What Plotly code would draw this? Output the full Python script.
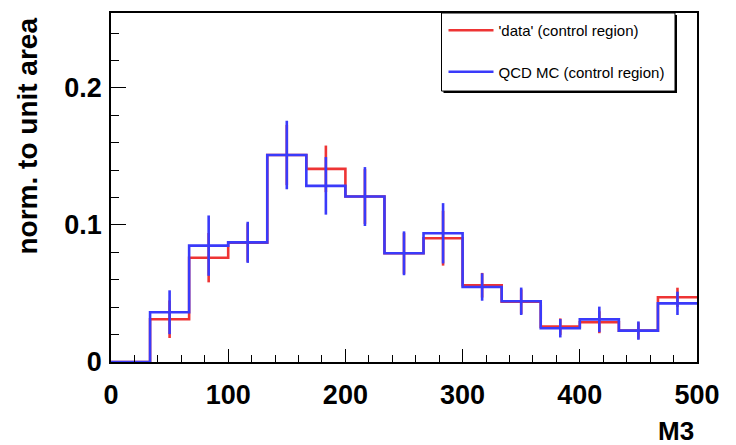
import plotly.graph_objects as go

# ---- data ----
bin_edges = [0, 33.333, 66.667, 100, 133.333, 166.667, 200, 233.333, 266.667,
             300, 333.333, 366.667, 400, 433.333, 466.667, 500]
data_vals = [0.0, 0.0312, 0.0761, 0.0871, 0.151, 0.1409, 0.1207, 0.0793, 0.0903,
             0.0560, 0.0440, 0.0258, 0.0290, 0.0229, 0.0472]
data_errs = [0.0, 0.0137, 0.018, 0.014, 0.022, 0.017, 0.020, 0.015, 0.020,
             0.009, 0.009, 0.006, 0.008, 0.006, 0.007]
mc_vals = [0.0, 0.0363, 0.0849, 0.0873, 0.151, 0.1285, 0.1207, 0.0793, 0.0939,
           0.0547, 0.0443, 0.0246, 0.0311, 0.0229, 0.0428]
mc_errs = [0.0, 0.016, 0.022, 0.015, 0.025, 0.021, 0.0215, 0.016, 0.022,
           0.010, 0.010, 0.0067, 0.0093, 0.0067, 0.0085]
x_ticks = [0, 100, 200, 300, 400, 500]
y_ticks = [0, 0.1, 0.2]
y_tick_text = ["0", "0.1", "0.2"]

RED = "rgb(238,52,52)"
BLUE = "rgb(58,58,250)"
FONT = "Liberation Sans, Arial, Helvetica, sans-serif"

centers = [(bin_edges[i] + bin_edges[i + 1]) / 2 for i in range(len(bin_edges) - 1)]

fig = go.Figure()

def add_hist(vals, errs, color, name, group):
    fig.add_trace(go.Scatter(
        x=bin_edges, y=vals + [vals[-1]], mode="lines", line_shape="hv",
        line=dict(color=color, width=2.6), name=name, legendgroup=group,
        showlegend=True, hoverinfo="skip"))
    ex = [c for c, e in zip(centers, errs) if e > 0]
    ey = [v for v, e in zip(vals, errs) if e > 0]
    ee = [e for e in errs if e > 0]
    fig.add_trace(go.Scatter(
        x=ex, y=ey, mode="markers", marker=dict(size=1, color=color, opacity=0),
        error_y=dict(type="data", array=ee, visible=True, color=color,
                     thickness=2.6, width=0),
        showlegend=False, legendgroup=group, hoverinfo="skip"))

add_hist(data_vals, data_errs, RED, "'data' (control region)", "g1")
add_hist(mc_vals, mc_errs, BLUE, "QCD MC (control region)", "g2")

L, R, T, B = 111, 39, 11, 83
W, H = 736, 445
pw, ph = W - L - R, H - T - B

def px_x(px):
    return (px - L) / pw

def px_y(py):
    return (H - B - py) / ph

# legend box (ROOT style with shadow)
bx0, bx1, by0, by1 = 441.5, 675, 11, 89.5
fig.add_shape(type="rect", xref="paper", yref="paper",
              x0=px_x(bx0 + 2), x1=px_x(bx1 + 2), y0=px_y(by1 + 2), y1=px_y(by0 + 2),
              line=dict(width=0), fillcolor="black", layer="above")
fig.add_shape(type="rect", xref="paper", yref="paper",
              x0=px_x(bx0), x1=px_x(bx1), y0=px_y(by1), y1=px_y(by0),
              line=dict(color="black", width=1), fillcolor="white", layer="above")

fig.update_layout(
    width=W, height=H,
    margin=dict(l=L, r=R, t=T, b=B),
    paper_bgcolor="white", plot_bgcolor="white",
    font=dict(family=FONT, color="black"),
    showlegend=True,
    legend=dict(x=px_x(bx0 + 2), y=px_y(by0 + 1), xanchor="left", yanchor="top",
                bgcolor="rgba(0,0,0,0)", borderwidth=0, itemwidth=45,
                font=dict(family=FONT, size=15, color="black"),
                tracegroupgap=19, traceorder="grouped"),
    xaxis=dict(range=[0, 500], tickvals=x_ticks, ticktext=[str(v) for v in x_ticks],
               ticks="inside", ticklen=13, tickwidth=1.2, tickcolor="black",
               minor=dict(dtick=20, ticks="inside", ticklen=7, tickwidth=1, tickcolor="black"),
               showline=True, linecolor="black", linewidth=1.5, mirror=True,
               showgrid=False, zeroline=False,
               tickfont=dict(family=FONT, size=27, weight="bold", color="black"),
               ticklabelstandoff=8),
    yaxis=dict(range=[0, 0.2546], tickvals=y_ticks, ticktext=y_tick_text,
               ticks="inside", ticklen=15, tickwidth=1.2, tickcolor="black",
               minor=dict(dtick=0.02, ticks="inside", ticklen=8, tickwidth=1, tickcolor="black"),
               showline=True, linecolor="black", linewidth=1.5, mirror=True,
               showgrid=False, zeroline=False,
               tickfont=dict(family=FONT, size=27, weight="bold", color="black"),
               ticklabelstandoff=2),
)

fig.add_annotation(text="M3", xref="paper", yref="paper", x=px_x(696), y=px_y(431),
                   xanchor="right", yanchor="middle", showarrow=False,
                   font=dict(family=FONT, size=26, weight="bold", color="black"))
fig.add_annotation(text="norm. to unit area", xref="paper", yref="paper",
                   x=px_x(27), y=px_y(14), xanchor="center", yanchor="top",
                   textangle=-90, showarrow=False,
                   font=dict(family=FONT, size=28, weight="bold", color="black"))

fig.write_html("out.html")
